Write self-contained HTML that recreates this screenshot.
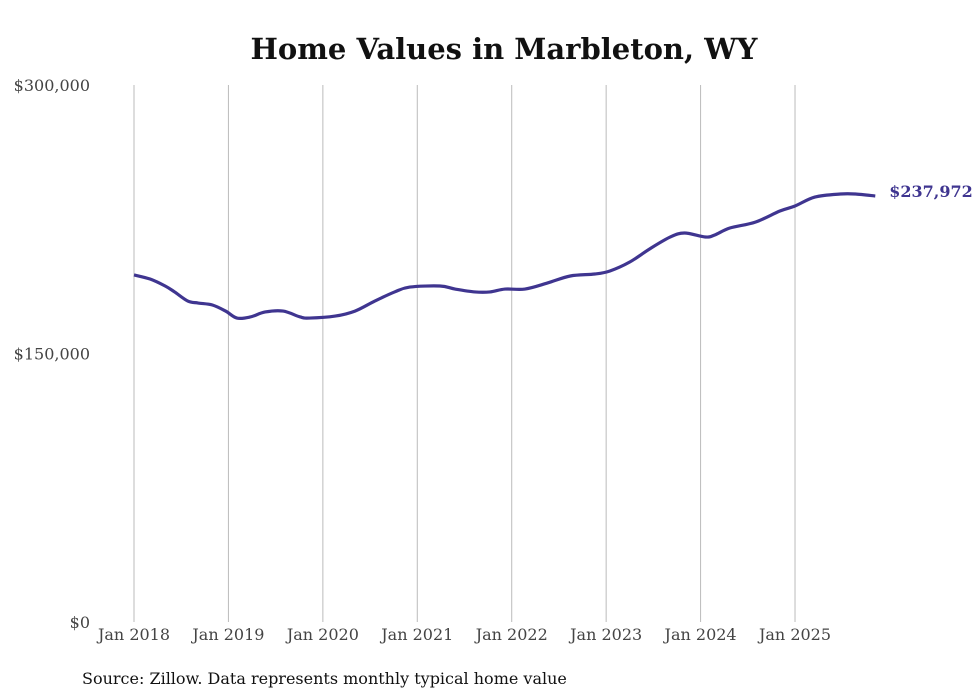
<!DOCTYPE html>
<html><head><meta charset="utf-8"><style>
html,body{margin:0;padding:0;background:#fff;}
svg{display:block;font-family:"DejaVu Serif","Liberation Serif",serif;}
</style></head><body>
<svg id="chart" width="980" height="699">
<text x="504" y="59" text-anchor="middle" font-size="29" font-weight="bold" fill="#111">Home Values in Marbleton, WY</text>
<g id="grid"></g><g id="yticks"></g><g id="xticks"></g>
<path id="line" fill="none" stroke="#3f3590" stroke-width="3.2" stroke-linejoin="round"></path>
<text id="endlabel" font-size="16" font-weight="bold" fill="#3f3590"></text>
<text x="82" y="684" font-size="16" fill="#111">Source: Zillow. Data represents monthly typical home value</text>
</svg>
<script>
const dates=[2018.00,2018.17,2018.33,2018.43,2018.57,2018.68,2018.83,2018.97,2019.09,2019.23,2019.39,2019.58,2019.76,2019.86,2020.13,2020.34,2020.55,2020.76,2020.92,2021.24,2021.40,2021.61,2021.77,2021.93,2022.14,2022.38,2022.62,2022.88,2023.04,2023.25,2023.46,2023.68,2023.83,2024.05,2024.15,2024.31,2024.58,2024.84,2025.00,2025.21,2025.48,2025.64,2025.85];
const values=[193900,191600,187700,184400,179300,178200,177100,173700,169800,170400,173200,173700,170400,169800,170900,173700,179300,184400,187100,187700,186000,184400,184400,186000,186000,189400,193300,194400,196100,201100,208400,215100,217300,215100,216200,220100,223400,229600,232400,237400,239100,239100,237972];
const yTicks=[0,150000,300000];
const yTickLabels=["$0","$150,000","$300,000"];
const xYears=[2018,2019,2020,2021,2022,2023,2024,2025];
const xLabels=["Jan 2018","Jan 2019","Jan 2020","Jan 2021","Jan 2022","Jan 2023","Jan 2024","Jan 2025"];
const NS="http://www.w3.org/2000/svg";
const X=t=>134+(t-2018)*94.43;
const Y=v=>622-v/300000*537;
const grid=document.getElementById('grid'),xt=document.getElementById('xticks'),yt=document.getElementById('yticks');
xYears.forEach((yr,i)=>{
  const l=document.createElementNS(NS,'line');
  l.setAttribute('x1',X(yr));l.setAttribute('x2',X(yr));l.setAttribute('y1',85);l.setAttribute('y2',622);
  l.setAttribute('stroke','#bbb');l.setAttribute('stroke-width','1');
  
  
  grid.appendChild(l);
  const t=document.createElementNS(NS,'text');
  t.setAttribute('x',X(yr));t.setAttribute('y',640);t.setAttribute('text-anchor','middle');
  t.setAttribute('font-size','16');t.setAttribute('fill','#444');t.textContent=xLabels[i];
  
  
  xt.appendChild(t);
});
yTicks.forEach((v,i)=>{
  const t=document.createElementNS(NS,'text');
  t.setAttribute('x',90);t.setAttribute('y',Y(v)+6);t.setAttribute('text-anchor','end');
  t.setAttribute('font-size','16');t.setAttribute('fill','#444');t.textContent=yTickLabels[i];
  
  
  yt.appendChild(t);
});
const pts=dates.map((d,i)=>[X(d),Y(values[i])]);
let d='M'+pts[0][0]+','+pts[0][1];
for(let i=0;i<pts.length-1;i++){
  const p0=pts[i-1]||pts[i],p1=pts[i],p2=pts[i+1],p3=pts[i+2]||p2;
  const c1=[p1[0]+(p2[0]-p0[0])/6,p1[1]+(p2[1]-p0[1])/6];
  const c2=[p2[0]-(p3[0]-p1[0])/6,p2[1]-(p3[1]-p1[1])/6];
  d+=' C'+c1+' '+c2+' '+p2;
}
document.getElementById('line').setAttribute('d',d);
const last=pts[pts.length-1];
const el=document.getElementById('endlabel');
el.setAttribute('x',last[0]+14);el.setAttribute('y',last[1]+1);
el.textContent='$'+values[values.length-1].toLocaleString('en-US');
</script>
</body></html>
